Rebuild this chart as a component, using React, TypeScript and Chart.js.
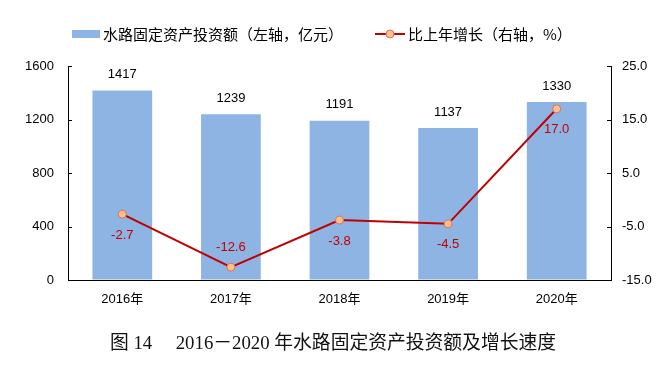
import React, { useEffect, useRef } from "react";
import { Chart, registerables } from "chart.js";

Chart.register(...registerables);

const categories = ["2016年", "2017年", "2018年", "2019年", "2020年"];
const investment = [1417, 1239, 1191, 1137, 1330];
const growth = [-2.7, -12.6, -3.8, -4.5, 17.0];
const growthLabelAbove = [false, true, false, false, false];
const leftTicks = [0, 400, 800, 1200, 1600];
const rightTicks = [-15, -5, 5, 15, 25];

const barLegend = "水路固定资产投资额（左轴，亿元）";
const lineLegend = "比上年增长（右轴，%）";
const titleText = "图 14\u3000 2016－2020 年水路固定资产投资额及增长速度";

const BAR_COLOR = "#8EB4E3";
const LINE_COLOR = "#C00000";
const POINT_FILL = "#FAC090";
const POINT_BORDER = "#E0705A";
const NUM_FONT = "13px 'Liberation Sans', Arial, sans-serif";
const CJK_FONT = "15px 'Noto Sans CJK SC', sans-serif";

const overlayPlugin = {
  id: "overlay",
  afterDatasetsDraw(chart: any) {
    const ctx = chart.ctx;
    const x = chart.scales.x;
    const y = chart.scales.y;
    const y1 = chart.scales.y1;
    ctx.save();
    ctx.font = NUM_FONT;
    ctx.fillStyle = "#000";
    ctx.textAlign = "center";
    ctx.textBaseline = "middle";
    investment.forEach((v, i) => {
      ctx.fillText(String(v), x.getPixelForValue(i), y.getPixelForValue(v) - 16);
    });
    ctx.fillStyle = LINE_COLOR;
    growth.forEach((v, i) => {
      const py = y1.getPixelForValue(v);
      ctx.fillText(v.toFixed(1), x.getPixelForValue(i), growthLabelAbove[i] ? py - 20 : py + 21);
    });
    ctx.restore();
  },
  afterDraw(chart: any) {
    const ctx = chart.ctx;
    const y = chart.scales.y;
    const y1 = chart.scales.y1;
    const area = chart.chartArea;
    ctx.save();
    ctx.strokeStyle = "#000";
    ctx.lineWidth = 1;
    ctx.beginPath();
    leftTicks.forEach((v) => {
      const py = Math.round(y.getPixelForValue(v)) + 0.5;
      ctx.moveTo(area.left, py);
      ctx.lineTo(area.left + 4, py);
    });
    rightTicks.forEach((v) => {
      const py = Math.round(y1.getPixelForValue(v)) + 0.5;
      ctx.moveTo(area.right - 4, py);
      ctx.lineTo(area.right, py);
    });
    ctx.stroke();

    const ly = 34;
    ctx.fillStyle = BAR_COLOR;
    ctx.fillRect(72, ly - 4, 28, 8);
    ctx.font = CJK_FONT;
    ctx.fillStyle = "#000";
    ctx.textAlign = "left";
    ctx.textBaseline = "middle";
    ctx.fillText(barLegend, 103, ly);
    ctx.strokeStyle = LINE_COLOR;
    ctx.lineWidth = 2;
    ctx.beginPath();
    ctx.moveTo(375, ly);
    ctx.lineTo(405, ly);
    ctx.stroke();
    ctx.beginPath();
    ctx.arc(390, ly, 4, 0, Math.PI * 2);
    ctx.fillStyle = POINT_FILL;
    ctx.fill();
    ctx.lineWidth = 1;
    ctx.strokeStyle = POINT_BORDER;
    ctx.stroke();
    ctx.fillStyle = "#000";
    ctx.fillText(lineLegend, 408, ly);

    ctx.font = "18.8px 'Liberation Serif', 'Noto Sans CJK SC', serif";
    ctx.textAlign = "center";
    ctx.fillStyle = "#111";
    ctx.fillText(titleText, 333, 344);
    ctx.restore();
  },
};

export default function App() {
  const ref = useRef<HTMLCanvasElement>(null);
  useEffect(() => {
    if (!ref.current) return;
    const chart = new Chart(ref.current, {
      type: "bar",
      data: {
        labels: categories,
        datasets: [
          {
            type: "line",
            label: lineLegend,
            data: growth,
            yAxisID: "y1",
            borderColor: LINE_COLOR,
            borderWidth: 2,
            pointRadius: 4,
            pointBackgroundColor: POINT_FILL,
            pointBorderColor: POINT_BORDER,
            pointBorderWidth: 1,
            tension: 0,
            order: 0,
          } as any,
          {
            type: "bar",
            label: barLegend,
            data: investment,
            yAxisID: "y",
            backgroundColor: BAR_COLOR,
            barPercentage: 0.55,
            categoryPercentage: 1,
            order: 1,
          },
        ],
      },
      options: {
        responsive: false,
        animation: false,
        layout: { padding: { top: 66, left: 0, right: 0, bottom: 0 }, autoPadding: false } as any,
        plugins: { legend: { display: false }, title: { display: false }, tooltip: { enabled: false } },
        scales: {
          x: {
            grid: { display: true, drawOnChartArea: false, drawTicks: false },
            border: { display: true, color: "#000", width: 1 },
            ticks: { color: "#000", font: { size: 13, family: "'Liberation Sans', 'Noto Sans CJK SC', sans-serif" }, padding: 12 },
            afterFit: (s: any) => { s.height = 90; },
          },
          y: {
            position: "left",
            min: 0,
            max: 1600,
            grid: { display: true, drawOnChartArea: false, drawTicks: false },
            border: { display: true, color: "#000", width: 1 },
            ticks: {
              stepSize: 400,
              color: "#000",
              font: { size: 13, family: "'Liberation Sans', Arial, sans-serif" },
              padding: 14,
              callback: (v: any) => String(v),
            },
            afterFit: (s: any) => { s.width = 68; },
          },
          y1: {
            position: "right",
            min: -15,
            max: 25,
            grid: { display: true, drawOnChartArea: false, drawTicks: false },
            border: { display: true, color: "#000", width: 1 },
            ticks: {
              stepSize: 10,
              color: "#000",
              font: { size: 13, family: "'Liberation Sans', Arial, sans-serif" },
              padding: 11,
              callback: (v: any) => Number(v).toFixed(1),
            },
            afterFit: (s: any) => { s.width = 59; },
          },
        },
      },
      plugins: [overlayPlugin],
    });
    return () => chart.destroy();
  }, []);
  return (
    <div style={{ position: "fixed", left: 0, top: 0, width: 670, height: 370, background: "#fff" }}>
      <canvas ref={ref} width={670} height={370} />
    </div>
  );
}
